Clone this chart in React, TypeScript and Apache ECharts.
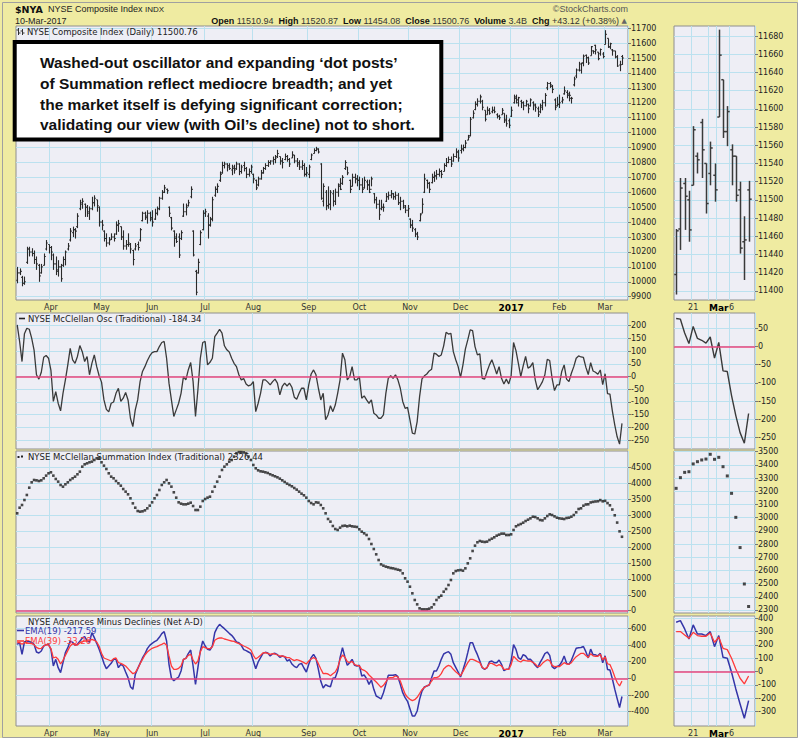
import React, { useEffect, useRef } from "react";
import * as echarts from "echarts";

// ---------------- calendar (categories) ----------------
const START_DATE = "2016-03-11";
const END_DATE = "2017-03-10";
const HOLIDAYS = [
  "2016-03-25", "2016-05-30", "2016-07-04", "2016-09-05", "2016-11-24",
  "2016-12-26", "2017-01-02", "2017-01-16", "2017-02-20",
];
const MONTH_NAMES = ["Jan", "Feb", "Mar", "Apr", "May", "Jun", "Jul", "Aug", "Sep", "Oct", "Nov", "Dec"];
const MINI_COUNT = 18;
const MINI_LABEL_DATES = ["2017-02-21", "2017-03-01", "2017-03-06"];
const MINI_LABEL_TEXT = ["21", "Mar", "6"];
const MINI_GRID_DATES = ["2017-02-21", "2017-02-27", "2017-03-01", "2017-03-06"];

// ---------------- tick labels ----------------
const P1_TICKS = [9900, 10000, 10100, 10200, 10300, 10400, 10500, 10600, 10700, 10800, 10900, 11000, 11100, 11200, 11300, 11400, 11500, 11600, 11700];
const P1M_TICKS = [11400, 11420, 11440, 11460, 11480, 11500, 11520, 11540, 11560, 11580, 11600, 11620, 11640, 11660, 11680];
const P2_TICKS = [-250, -200, -150, -100, -50, 0, 50, 100, 150, 200];
const P2M_TICKS = [-250, -200, -150, -100, -50, 0, 50];
const P3_TICKS = [0, 500, 1000, 1500, 2000, 2500, 3000, 3500, 4000, 4500];
const P3M_TICKS = [2300, 2400, 2500, 2600, 2700, 2800, 2900, 3000, 3100, 3200, 3300, 3400, 3500];
const P4_TICKS = [-400, -200, 0, 200, 400, 600];
const P4M_TICKS = [-300, -200, -100, 0, 100, 200, 300, 400];

// ---------------- NYSE Composite daily OHLC ----------------
const NYA_OPEN = [
  10010, 10060, 10030, 9990, 10130, 10220, 10200, 10190, 10150, 10110,
  10060, 10110, 10220, 10250, 10230, 10180, 10120, 10070, 10100, 10110,
  10150, 10220, 10280, 10330, 10350, 10370, 10490, 10520, 10520, 10500,
  10460, 10490, 10530, 10550, 10500, 10400, 10340, 10290, 10260, 10285,
  10300, 10320, 10380, 10370, 10300, 10240, 10250, 10250, 10210, 10220,
  10250, 10280, 10410, 10460, 10430, 10460, 10430, 10420, 10460, 10490,
  10560, 10600, 10620, 10500, 10430, 10340, 10300, 10300, 10290, 10440,
  10470, 10510, 10570, 10340, 10070, 10060, 10250, 10350, 10460, 10440,
  10380, 10420, 10580, 10620, 10680, 10730, 10780, 10790, 10780, 10750,
  10770, 10760, 10790, 10740, 10780, 10760, 10720, 10740, 10720, 10680,
  10650, 10690, 10730, 10760, 10780, 10800, 10810, 10820, 10840, 10840,
  10810, 10820, 10840, 10820, 10830, 10850, 10810, 10800, 10770, 10780,
  10720, 10720, 10820, 10860, 10880, 10890, 10790, 10540, 10600, 10510,
  10520, 10590, 10540, 10600, 10650, 10660, 10760, 10770, 10680, 10640,
  10700, 10690, 10680, 10650, 10630, 10670, 10650, 10620, 10590, 10550,
  10520, 10490, 10500, 10540, 10570, 10580, 10590, 10570, 10580, 10530,
  10540, 10500, 10480, 10420, 10380, 10350, 10320, 10410, 10460, 10600,
  10680, 10660, 10665, 10700, 10710, 10720, 10740, 10740, 10780, 10800,
  10820, 10810, 10840, 10870, 10880, 10890, 10900, 10950, 10980, 11100,
  11155, 11190, 11210, 11210, 11150, 11120, 11150, 11140, 11150, 11120,
  11110, 11120, 11130, 11090, 11080, 11110, 11200, 11240, 11200, 11210,
  11200, 11180, 11190, 11180, 11200, 11180, 11160, 11140, 11170, 11200,
  11300, 11330, 11310, 11220, 11180, 11190, 11210, 11260, 11270, 11250,
  11230, 11320, 11380, 11420,
  11418, 11468, 11518, 11500, 11516, 11548, 11585, 11540, 11529, 11527,
  11591, 11632, 11575, 11555, 11548, 11511, 11454, 11510.94,
];
const NYA_HIGH = [
  10100, 10090, 10040, 10035, 10235, 10235, 10225, 10210, 10170, 10120,
  10120, 10190, 10280, 10250, 10240, 10190, 10170, 10145, 10120, 10170,
  10210, 10260, 10360, 10370, 10360, 10460, 10550, 10560, 10525, 10515,
  10505, 10570, 10580, 10550, 10505, 10415, 10345, 10325, 10300, 10325,
  10325, 10405, 10415, 10370, 10345, 10280, 10325, 10260, 10215, 10260,
  10270, 10360, 10470, 10470, 10480, 10470, 10480, 10490, 10505, 10570,
  10615, 10650, 10625, 10505, 10435, 10345, 10325, 10325, 10345, 10525,
  10525, 10550, 10640, 10345, 10080, 10155, 10345, 10480, 10490, 10460,
  10435, 10570, 10640, 10660, 10740, 10805, 10805, 10795, 10795, 10785,
  10785, 10805, 10795, 10785, 10805, 10770, 10760, 10785, 10725, 10685,
  10705, 10750, 10770, 10795, 10815, 10815, 10840, 10850, 10885, 10840,
  10830, 10860, 10850, 10830, 10875, 10850, 10830, 10815, 10815, 10795,
  10770, 10785, 10860, 10895, 10905, 10895, 10795, 10660, 10615, 10640,
  10615, 10615, 10625, 10660, 10695, 10715, 10815, 10770, 10685, 10725,
  10725, 10715, 10705, 10695, 10705, 10685, 10685, 10705, 10595, 10570,
  10550, 10550, 10525, 10595, 10605, 10615, 10595, 10605, 10595, 10570,
  10550, 10515, 10515, 10425, 10415, 10360, 10335, 10460, 10560, 10725,
  10685, 10670, 10725, 10740, 10750, 10760, 10750, 10795, 10830, 10840,
  10840, 10860, 10895, 10885, 10920, 10920, 10950, 10985, 11105, 11150,
  11210, 11230, 11255, 11220, 11150, 11175, 11165, 11175, 11175, 11130,
  11120, 11165, 11130, 11120, 11095, 11175, 11255, 11255, 11240, 11220,
  11210, 11220, 11195, 11230, 11210, 11195, 11175, 11195, 11220, 11265,
  11340, 11340, 11320, 11230, 11240, 11255, 11240, 11310, 11285, 11275,
  11240, 11375, 11430, 11475,
  11468, 11524, 11524, 11510, 11581, 11552, 11589, 11540, 11564, 11540,
  11687, 11632, 11603, 11561, 11548, 11520, 11482, 11520.87,
];
const NYA_LOW = [
  9990, 10045, 9970, 9980, 10120, 10170, 10170, 10120, 10080, 10000,
  10055, 10110, 10210, 10190, 10145, 10080, 10045, 10035, 10000, 10100,
  10110, 10210, 10270, 10300, 10290, 10360, 10480, 10490, 10435, 10435,
  10415, 10480, 10505, 10470, 10370, 10345, 10270, 10235, 10245, 10280,
  10270, 10315, 10335, 10280, 10215, 10215, 10235, 10190, 10110, 10210,
  10210, 10270, 10405, 10415, 10390, 10405, 10370, 10415, 10445, 10480,
  10550, 10595, 10590, 10435, 10345, 10235, 10260, 10160, 10280, 10435,
  10445, 10505, 10560, 10170, 9910, 10055, 10245, 10345, 10435, 10290,
  10370, 10405, 10570, 10595, 10670, 10725, 10760, 10740, 10750, 10715,
  10725, 10750, 10715, 10725, 10740, 10695, 10705, 10725, 10660, 10615,
  10640, 10685, 10725, 10750, 10770, 10785, 10785, 10795, 10830, 10785,
  10760, 10815, 10805, 10770, 10830, 10795, 10770, 10750, 10750, 10705,
  10705, 10695, 10815, 10860, 10875, 10860, 10550, 10505, 10480, 10490,
  10480, 10505, 10515, 10570, 10615, 10650, 10750, 10715, 10595, 10640,
  10660, 10640, 10615, 10595, 10625, 10615, 10595, 10640, 10525, 10490,
  10415, 10480, 10470, 10535, 10550, 10560, 10550, 10550, 10515, 10480,
  10490, 10460, 10435, 10360, 10335, 10300, 10280, 10405, 10460, 10595,
  10625, 10595, 10660, 10670, 10685, 10705, 10695, 10740, 10770, 10795,
  10770, 10805, 10830, 10805, 10860, 10875, 10895, 10950, 10975, 11095,
  11150, 11175, 11195, 11150, 11075, 11120, 11120, 11130, 11130, 11095,
  11085, 11120, 11065, 11040, 11030, 11105, 11195, 11195, 11175, 11165,
  11150, 11175, 11130, 11175, 11150, 11140, 11105, 11130, 11150, 11175,
  11285, 11300, 11265, 11150, 11175, 11165, 11195, 11255, 11230, 11210,
  11195, 11310, 11365, 11410,
  11396, 11445, 11467, 11454, 11516, 11529, 11524, 11485, 11516, 11498,
  11591, 11568, 11559, 11516, 11498, 11441, 11412, 11454.08,
];
const NYA_CLOSE = [
  10060, 10070, 9990, 10000, 10220, 10200, 10190, 10150, 10120, 10040,
  10100, 10170, 10260, 10230, 10200, 10120, 10080, 10100, 10020, 10150,
  10200, 10240, 10340, 10350, 10340, 10440, 10530, 10540, 10500, 10470,
  10490, 10530, 10560, 10510, 10400, 10380, 10290, 10260, 10280, 10300,
  10290, 10380, 10390, 10300, 10240, 10250, 10260, 10220, 10150, 10240,
  10230, 10350, 10460, 10440, 10460, 10420, 10400, 10460, 10490, 10560,
  10600, 10630, 10610, 10460, 10360, 10290, 10270, 10180, 10330, 10470,
  10500, 10530, 10620, 10180, 9930, 10130, 10330, 10460, 10470, 10380,
  10420, 10550, 10620, 10640, 10720, 10780, 10790, 10770, 10760, 10760,
  10750, 10790, 10740, 10770, 10760, 10720, 10740, 10770, 10690, 10630,
  10690, 10730, 10760, 10780, 10800, 10810, 10820, 10830, 10860, 10810,
  10800, 10840, 10820, 10790, 10850, 10810, 10790, 10770, 10780, 10720,
  10730, 10770, 10850, 10880, 10890, 10870, 10560, 10640, 10510, 10520,
  10600, 10540, 10600, 10640, 10620, 10700, 10800, 10730, 10620, 10700,
  10690, 10680, 10650, 10620, 10680, 10650, 10600, 10690, 10550, 10520,
  10450, 10500, 10500, 10570, 10580, 10590, 10570, 10580, 10530, 10540,
  10510, 10480, 10490, 10380, 10360, 10320, 10300, 10450, 10520, 10690,
  10660, 10620, 10700, 10710, 10720, 10740, 10720, 10780, 10800, 10820,
  10790, 10840, 10870, 10830, 10890, 10900, 10930, 10970, 11090, 11130,
  11190, 11210, 11240, 11170, 11090, 11150, 11130, 11150, 11140, 11110,
  11100, 11150, 11080, 11060, 11050, 11150, 11230, 11220, 11235, 11200,
  11180, 11210, 11160, 11220, 11190, 11170, 11120, 11180, 11200, 11250,
  11330, 11320, 11290, 11170, 11190, 11200, 11220, 11280, 11260, 11250,
  11230, 11360, 11420, 11460,
  11466, 11513, 11504, 11467, 11577, 11544, 11555, 11496, 11557, 11511,
  11659, 11575, 11597, 11548, 11505, 11447, 11456, 11500.76,
];

// ---------------- NYSE McClellan Oscillator ----------------
const OSC = [
  203, 138, 59, 168, 190, 186, 151, 104, 7, -10,
  17, 76, 83, 72, 24, -98, -59, -105, -135, -66,
  -13, 46, 111, 66, 52, 79, 122, 98, 59, 79,
  7, 52, 85, 39, 3, -22, -92, -129, -139, -105,
  -100, -66, -46, -98, -85, -63, -92, -164, -197, -131,
  -92, -20, 20, 39, 62, 81, 94, 98, 98, 118,
  134, 138, 72, -26, -92, -157, -131, -105, -66, 0,
  -13, 26, 55, -20, -157, -52, 72, 134, 138, 46,
  56, 72, 157, 171, 186, 171, 121, 105, 97, 72,
  52, 39, 7, -13, -8, -29, -37, -33, -20, -138,
  -105, -66, -13, -13, -22, -33, -20, -10, -26, -72,
  -39, -26, -37, -26, -42, -81, -89, -66, -46, -46,
  -92, -33, 10, 26, 7, -46, -92, -66, -170, -151,
  -115, -138, -112, -66, -13, 92, 66, -13, 0, 39,
  -13, -13, 0, -85, -76, -92, -105, -92, -144, -151,
  -164, -164, -151, -66, -7, 3, -7, 7, -13, -46,
  -98, -125, -121, -170, -223, -226, -177, -79, -9, 3,
  10, 22, 29, 92, 88, 79, 85, 121, 174, 167,
  170, 98, 66, 39, -3, 46, 108, 144, 184, 181,
  118, 85, 89, -7, -10, 20, 46, 66, 39, 10,
  39, -7, -29, -10, -29, 3, 134, 102, 52, 0,
  42, 79, 33, 39, 55, -13, -52, -37, -20, 7,
  68, 63, -7, -55, -33, -33, 20, 46, -10, -20,
  13, 39, 72, 81, 77, 75, 37, 8, 55, 22,
  17, 9, 26, -32, 11, -67, -69, -135, -190, -237,
  -266, -184.34,
];

// ---------------- NYSE McClellan Summation Index ----------------
const SUMMATION = [
  3064, 3241, 3326, 3483, 3641, 3871, 4039, 4113, 4102, 4081,
  4102, 4166, 4250, 4323, 4354, 4250, 4145, 4061, 3956, 3903,
  3977, 4039, 4113, 4166, 4218, 4292, 4375, 4532, 4606, 4637,
  4669, 4690, 4742, 4795, 4795, 4669, 4564, 4459, 4323, 4218,
  4166, 4081, 4008, 3934, 3829, 3746, 3662, 3536, 3378, 3241,
  3137, 3117, 3127, 3158, 3221, 3305, 3410, 3536, 3641, 3798,
  3956, 4039, 4113, 4008, 3903, 3725, 3557, 3410, 3368, 3347,
  3347, 3368, 3399, 3294, 3168, 3168, 3274, 3452, 3514, 3557,
  3588, 3746, 3903, 4061, 4218, 4428, 4532, 4606, 4690, 4742,
  4847, 4952, 4990, 4990, 4980, 4950, 4850, 4742, 4585, 4480,
  4417, 4386, 4375, 4354, 4333, 4292, 4260, 4229, 4197, 4155,
  4103, 4050, 3998, 3956, 3914, 3861, 3809, 3746, 3683, 3631,
  3557, 3452, 3389, 3347, 3410, 3400, 3326, 3221, 3064, 2886,
  2802, 2666, 2571, 2540, 2613, 2666, 2676, 2655, 2676, 2655,
  2645, 2634, 2561, 2487, 2435, 2382, 2256, 2099, 1941, 1774,
  1595, 1459, 1417, 1386, 1365, 1344, 1333, 1312, 1291, 1270,
  1176, 1019, 914, 756, 547, 337, 200, 75, 43, 43,
  43, 64, 106, 200, 337, 421, 473, 599, 683, 809,
  966, 1176, 1249, 1270, 1280, 1260, 1333, 1490, 1648, 1879,
  2047, 2152, 2194, 2173, 2162, 2173, 2225, 2267, 2309, 2361,
  2393, 2424, 2424, 2382, 2382, 2403, 2540, 2655, 2697, 2728,
  2770, 2822, 2864, 2906, 2958, 2948, 2906, 2854, 2843, 2906,
  2979, 3032, 3011, 2969, 2927, 2906, 2896, 2885, 2917, 2927,
  2958, 3011, 3095, 3200, 3222, 3303, 3343, 3348, 3407, 3424,
  3437, 3444, 3480, 3442, 3457, 3386, 3316, 3184, 3002, 2773,
  2497, 2326.44,
];

// ---------------- NYSE Advances minus Declines EMAs ----------------
const EMA19 = [
  408, 428, 288, 436, 448, 440, 432, 408, 316, 304,
  328, 388, 404, 408, 348, 148, 228, 128, 68, 188,
  308, 368, 448, 432, 396, 408, 444, 484, 500, 448,
  436, 548, 488, 420, 348, 268, 180, 116, 148, 180,
  228, 228, 128, 168, 148, 76, 8, -100, -132, 48,
  116, 180, 244, 292, 356, 396, 420, 440, 456, 492,
  536, 560, 448, 168, 4, -28, -4, 16, 88, 228,
  240, 296, 340, 148, -72, 128, 328, 448, 388, 348,
  340, 388, 548, 608, 648, 620, 596, 568, 540, 516,
  480, 436, 428, 396, 344, 332, 316, 300, 208, 116,
  196, 248, 300, 312, 304, 268, 296, 300, 284, 252,
  268, 260, 208, 224, 172, 144, 128, 168, 180, 124,
  76, 168, 248, 288, 240, 108, -36, -116, -76, -92,
  -100, 0, 8, 88, 248, 368, 256, 156, 188, 228,
  156, 148, 156, 28, 40, -4, -72, -20, -132, -212,
  -228, -248, -172, -72, 36, 36, 36, 44, 20, -72,
  -172, -232, -276, -364, -452, -452, -392, -252, -152, -104,
  -92, -80, 8, 88, 88, 148, 228, 292, 308, 320,
  288, 188, 132, 76, 16, 100, 192, 308, 428, 428,
  348, 284, 208, 128, 108, 128, 200, 208, 188, 188,
  220, 168, 92, 108, 108, 208, 404, 348, 248, 228,
  284, 268, 228, 228, 196, 156, 128, 188, 240, 296,
  316, 276, 140, 116, 140, 156, 196, 268, 180, 168,
  216, 288, 360, 368, 370, 382, 320, 245, 350, 282,
  282, 270, 300, 187, 270, 107, 100, -5, -130, -243,
  -350, -217.59,
];
const EMA39 = [
  428, 428, 408, 428, 428, 420, 416, 404, 372, 356,
  360, 388, 404, 400, 356, 244, 256, 228, 172, 216,
  276, 332, 388, 416, 400, 400, 428, 440, 448, 448,
  452, 468, 456, 436, 384, 300, 244, 232, 220, 208,
  236, 244, 188, 180, 164, 148, 116, 84, 56, 68,
  116, 176, 228, 280, 316, 340, 360, 372, 380, 396,
  408, 424, 396, 268, 148, 108, 108, 120, 148, 228,
  240, 276, 288, 220, 172, 208, 316, 380, 368, 356,
  356, 380, 456, 476, 484, 484, 472, 464, 456, 448,
  444, 428, 416, 404, 388, 376, 360, 340, 276, 232,
  252, 276, 304, 308, 300, 288, 296, 292, 280, 268,
  268, 260, 248, 248, 228, 212, 224, 216, 204, 188,
  172, 208, 232, 248, 232, 176, 112, 56, 60, 52,
  32, 56, 76, 128, 228, 280, 252, 200, 188, 204,
  164, 156, 148, 108, 96, 76, 40, 12, -16, -44,
  -76, -108, -84, -44, 4, 8, 12, 28, 16, -32,
  -112, -188, -228, -252, -268, -256, -228, -184, -136, -108,
  -92, -76, -32, 8, 8, 20, 56, 112, 140, 156,
  144, 108, 80, 56, 32, 80, 136, 188, 228, 228,
  216, 200, 188, 132, 112, 128, 180, 180, 164, 148,
  164, 148, 108, 108, 108, 164, 264, 236, 208, 196,
  220, 212, 208, 208, 192, 172, 140, 148, 180, 204,
  224, 212, 156, 140, 144, 140, 164, 188, 172, 168,
  188, 228, 260, 280, 300, 300, 275, 250, 295, 270,
  265, 265, 290, 220, 258, 175, 165, 100, 20, -50,
  -92, -33.26,
];

// ---------------- layout / style ----------------
const MAIN_LEFT = 16;
const MAIN_W = 612;
const MINI_LEFT = 674;
const MINI_W = 81;
const PANELS = [
  { top: 26, height: 274, min: 9878, max: 11715, mmin: 11390, mmax: 11691, ticks: P1_TICKS, mticks: P1M_TICKS },
  { top: 313, height: 136, min: -285, max: 250, mmin: -282, mmax: 92, ticks: P2_TICKS, mticks: P2M_TICKS },
  { top: 451, height: 162, min: -72, max: 5025, mmin: 2277, mmax: 3505, ticks: P3_TICKS, mticks: P3M_TICKS },
  { top: 616, height: 110, min: -572, max: 748, mmin: -408, mmax: 417, ticks: P4_TICKS, mticks: P4M_TICKS },
];
const YELLOW = "#EFEBA1";
const PLOT_BG = "#EEEEF5";
const GRID_LINE = "#BBE1EF";
const BORDER = "#8E8E8E";
const ZERO_RED = "#E8467C";
const AXIS_FONT = "DejaVu Sans";
const HEAD_FONT = "Liberation Sans";

function buildTradingDays(start: string, end: string, holidays: string[]): string[] {
  const hol = new Set(holidays);
  const out: string[] = [];
  const d = new Date(start + "T00:00:00Z");
  const e = new Date(end + "T00:00:00Z");
  while (d.getTime() <= e.getTime()) {
    const dow = d.getUTCDay();
    const iso = d.toISOString().slice(0, 10);
    if (dow !== 0 && dow !== 6 && !hol.has(iso)) out.push(iso);
    d.setUTCDate(d.getUTCDate() + 1);
  }
  return out;
}

function buildOption() {
  const days = buildTradingDays(START_DATE, END_DATE, HOLIDAYS);
  const n = days.length;
  const mainCats = [...days, "", ""];
  const base = n - MINI_COUNT;
  const miniCats = [...days.slice(base), ""];
  const monthStart = new Set<number>();
  for (let i = 1; i < n; i++) if (days[i].slice(0, 7) !== days[i - 1].slice(0, 7)) monthStart.add(i);
  const miniLabelSet = new Set(MINI_LABEL_DATES);
  const miniGridSet = new Set(MINI_GRID_DATES);

  const grids: any[] = [];
  const xAxes: any[] = [];
  const yAxes: any[] = [];
  PANELS.forEach((p, pi) => {
    const showX = pi === 0 || pi === 3;
    grids.push({ left: MAIN_LEFT, top: p.top, width: MAIN_W, height: p.height, show: true, backgroundColor: PLOT_BG, borderColor: BORDER, borderWidth: 1, outerBoundsMode: "none" });
    grids.push({ left: MINI_LEFT, top: p.top, width: MINI_W, height: p.height, show: true, backgroundColor: PLOT_BG, borderColor: BORDER, borderWidth: 1, outerBoundsMode: "none" });
    xAxes.push({
      type: "category", gridIndex: pi * 2, data: mainCats, boundaryGap: true,
      axisLine: { show: false }, axisTick: { show: false },
      axisLabel: {
        show: showX, interval: (i: number) => monthStart.has(i), margin: 3,
        fontSize: 8, fontFamily: AXIS_FONT, color: "#333",
        formatter: (v: string) => {
          if (!v) return "";
          const m = Number(v.slice(5, 7));
          return m === 1 ? `{y|${v.slice(0, 4)}}` : MONTH_NAMES[m - 1];
        },
        rich: { y: { fontWeight: "bold", color: "#000", fontSize: 9, fontFamily: AXIS_FONT } },
      },
      splitLine: { show: true, interval: (i: number) => monthStart.has(i), lineStyle: { color: GRID_LINE, width: 1 } },
    });
    xAxes.push({
      type: "category", gridIndex: pi * 2 + 1, data: miniCats, boundaryGap: true,
      axisLine: { show: false }, axisTick: { show: false },
      axisLabel: {
        show: showX, interval: (i: number) => miniLabelSet.has(miniCats[i]), margin: 3,
        fontSize: 8, fontFamily: AXIS_FONT, color: "#333",
        formatter: (v: string) => {
          const k = MINI_LABEL_DATES.indexOf(v);
          if (k < 0) return "";
          const t = MINI_LABEL_TEXT[k];
          return MONTH_NAMES.indexOf(t) >= 0 ? `{m|${t}}` : t;
        },
        rich: { m: { fontWeight: "bold", color: "#000", fontSize: 9, fontFamily: AXIS_FONT } },
      },
      splitLine: { show: true, interval: (i: number) => miniGridSet.has(miniCats[i]), lineStyle: { color: GRID_LINE, width: 1 } },
    });
    const yCfg = (gridIndex: number, min: number, max: number, ticks: number[]) => ({
      type: "value", gridIndex, position: "right", min, max, scale: true,
      axisLine: { show: false },
      axisTick: { show: true, customValues: ticks, length: 3, lineStyle: { color: "#777" } },
      axisLabel: { customValues: ticks, margin: 3, fontSize: 8, fontFamily: AXIS_FONT, color: "#222", formatter: (v: number) => String(v) },
      splitLine: { show: true, lineStyle: { color: GRID_LINE, width: 1 } },
    });
    yAxes.push(yCfg(pi * 2, p.min, p.max, p.ticks));
    yAxes.push(yCfg(pi * 2 + 1, p.mmin, p.mmax, p.mticks));
  });

  const ohlcRender = (tick: number, width: number, color: string) => (params: any, api: any) => {
    const x = api.value(0);
    const o = api.coord([x, api.value(1)]);
    const h = api.coord([x, api.value(2)]);
    const l = api.coord([x, api.value(3)]);
    const c = api.coord([x, api.value(4)]);
    const cx = Math.round(h[0]) + 0.5;
    const st = { stroke: color, lineWidth: width };
    return {
      type: "group",
      children: [
        { type: "line", shape: { x1: cx, y1: h[1], x2: cx, y2: l[1] }, style: st },
        { type: "line", shape: { x1: cx - tick, y1: o[1], x2: cx, y2: o[1] }, style: st },
        { type: "line", shape: { x1: cx, y1: c[1], x2: cx + tick, y2: c[1] }, style: st },
      ],
    };
  };
  const zeroLine = {
    silent: true, symbol: ["none", "none"], label: { show: false },
    lineStyle: { color: ZERO_RED, width: 1.6, type: "solid" }, data: [{ yAxis: 0 }],
  };

  const mainOhlc = days.map((_, i) => [i, NYA_OPEN[i], NYA_HIGH[i], NYA_LOW[i], NYA_CLOSE[i]]);
  const miniOhlc = days.slice(base).map((_, k) => [k, NYA_OPEN[base + k], NYA_HIGH[base + k], NYA_LOW[base + k], NYA_CLOSE[base + k]]);

  const series: any[] = [
    { type: "custom", xAxisIndex: 0, yAxisIndex: 0, data: mainOhlc, encode: { x: 0, y: [1, 2, 3, 4] }, renderItem: ohlcRender(1.3, 1.1, "#2a2a2a"), clip: true, silent: true },
    { type: "custom", xAxisIndex: 1, yAxisIndex: 1, data: miniOhlc, encode: { x: 0, y: [1, 2, 3, 4] }, renderItem: ohlcRender(2.2, 1.5, "#3a3a3a"), clip: true, silent: true },
    { type: "line", xAxisIndex: 2, yAxisIndex: 2, data: OSC, showSymbol: false, silent: true, lineStyle: { color: "#3a3a3a", width: 1.3 }, markLine: zeroLine, z: 3 },
    { type: "line", xAxisIndex: 3, yAxisIndex: 3, data: OSC.slice(base), showSymbol: false, silent: true, lineStyle: { color: "#3a3a3a", width: 1.4 }, markLine: zeroLine, z: 3 },
    { type: "scatter", xAxisIndex: 4, yAxisIndex: 4, data: SUMMATION, symbol: "rect", symbolSize: 2.6, silent: true, itemStyle: { color: "#1c1c1c" }, markLine: zeroLine },
    { type: "scatter", xAxisIndex: 5, yAxisIndex: 5, data: SUMMATION.slice(base), symbol: "rect", symbolSize: 3, silent: true, itemStyle: { color: "#1c1c1c" } },
    { type: "line", xAxisIndex: 6, yAxisIndex: 6, data: EMA19, showSymbol: false, silent: true, lineStyle: { color: "#3535A8", width: 1.5 }, markLine: zeroLine, z: 3 },
    { type: "line", xAxisIndex: 6, yAxisIndex: 6, data: EMA39, showSymbol: false, silent: true, lineStyle: { color: "#FF3A3A", width: 1.3 }, z: 4 },
    { type: "line", xAxisIndex: 7, yAxisIndex: 7, data: EMA19.slice(base), showSymbol: false, silent: true, lineStyle: { color: "#3535A8", width: 1.5 }, markLine: zeroLine, z: 3 },
    { type: "line", xAxisIndex: 7, yAxisIndex: 7, data: EMA39.slice(base), showSymbol: false, silent: true, lineStyle: { color: "#FF3A3A", width: 1.3 }, z: 4 },
  ];

  const txt = (x: number, y: number, text: string, font: string, fill = "#222", align = "left", extra: any = {}) => ({
    type: "text", x, y, silent: true, z: 50,
    style: { text, font, fill, textAlign: align, textVerticalAlign: "middle", ...extra },
  });
  const ln = (x1: number, y1: number, x2: number, y2: number, stroke: string, w = 1) => ({
    type: "line", silent: true, z: 50, shape: { x1, y1, x2, y2 }, style: { stroke, lineWidth: w },
  });
  const titleFont = `8.5px "${AXIS_FONT}"`;

  const graphic: any[] = [
    { type: "rect", silent: true, z: 60, shape: { x: 0, y: 738, width: 800, height: 4 }, style: { fill: "#fff" } },
    { type: "rect", silent: true, z: 60, shape: { x: 798, y: 0, width: 2, height: 742 }, style: { fill: "#fff" } },
    { type: "rect", silent: true, z: 60, shape: { x: 2.5, y: 2.5, width: 795, height: 735 }, style: { fill: "none", stroke: "#A0A0A0", lineWidth: 1 } },
    // header
    txt(15, 9, "$NYA", `bold 9.5px "${AXIS_FONT}"`, "#111"),
    txt(48, 9, "NYSE Composite Index", `9px "${HEAD_FONT}"`, "#222"),
    txt(145, 9, "INDX", `8px "${HEAD_FONT}"`, "#222"),
    txt(15, 20.5, "10-Mar-2017", `9px "${HEAD_FONT}"`, "#222"),
    txt(628, 8.5, "\u00A9StockCharts.com", `9px "${HEAD_FONT}"`, "#555", "right"),
    txt(627, 20.5,
      "{b|Open} 11510.94  {b|High} 11520.87  {b|Low} 11454.08  {b|Close} 11500.76  {b|Volume} 3.4B  {b|Chg} +43.12 (+0.38%) {t|\u25B2}",
      `9px "${HEAD_FONT}"`, "#333", "right",
      { rich: { b: { font: `bold 9px "${HEAD_FONT}"`, fill: "#111" }, t: { font: `7px "${AXIS_FONT}"`, fill: "#666" } } }),
    // panel titles
    ln(18.5, 28, 18.5, 35, "#333"), ln(16.5, 30, 18.5, 30, "#333"), ln(18.5, 33, 20.5, 33, "#333"),
    ln(22.5, 29, 22.5, 35, "#333"), ln(20.5, 31, 22.5, 31, "#333"), ln(22.5, 33, 24.5, 33, "#333"),
    txt(27, 31.5, "NYSE Composite Index (Daily) 11500.76", titleFont),
    ln(19, 318.5, 25, 318.5, "#222", 1.6),
    txt(28, 318.5, "NYSE McClellan Osc (Traditional) -184.34", titleFont),
    { type: "rect", silent: true, z: 50, shape: { x: 17.5, y: 456, width: 2, height: 2 }, style: { fill: "#222" } },
    { type: "rect", silent: true, z: 50, shape: { x: 21, y: 455.5, width: 2, height: 2 }, style: { fill: "#222" } },
    txt(28, 457, "NYSE McClellan Summation Index (Traditional) 2326.44", titleFont),
    txt(28, 622, "NYSE Advances Minus Declines (Net A-D)", titleFont),
    ln(17, 630.5, 24, 630.5, "#3535A8", 1.6),
    txt(25, 630.5, "EMA(19) -217.59", titleFont, "#3535A8"),
    ln(17, 641, 24, 641, "#FF3A3A", 1.6),
    txt(25, 641, "EMA(39) -33.26", titleFont, "#FF3A3A"),
    // annotation box
    { type: "rect", silent: true, z: 90, shape: { x: 14.7, y: 42, width: 426.6, height: 97.5 }, style: { fill: "#fff", stroke: "#000", lineWidth: 4 } },
    { ...txt(40, 62, "Washed-out oscillator and expanding \u2018dot posts\u2019", `bold 15.5px "${HEAD_FONT}"`, "#111"), z: 91 },
    { ...txt(40, 83, "of Summation reflect mediocre breadth; and yet", `bold 15.5px "${HEAD_FONT}"`, "#111"), z: 91 },
    { ...txt(40, 104, "the market itself is defying significant correction;", `bold 15.5px "${HEAD_FONT}"`, "#111"), z: 91 },
    { ...txt(40, 124.5, "validating our view (with Oil\u2019s decline) not to short.", `bold 15.5px "${HEAD_FONT}"`, "#111"), z: 91 },
  ];

  return {
    animation: false,
    backgroundColor: YELLOW,
    grid: grids,
    xAxis: xAxes,
    yAxis: yAxes,
    series,
    graphic,
    tooltip: { show: false },
  };
}

export default function App() {
  const ref = useRef<HTMLDivElement>(null);
  useEffect(() => {
    if (!ref.current) return;
    const chart = echarts.init(ref.current, undefined, { renderer: "svg" });
    chart.setOption(buildOption() as any);
    return () => chart.dispose();
  }, []);
  return <div ref={ref} style={{ position: "absolute", left: 0, top: 0, width: 800, height: 742 }} />;
}
